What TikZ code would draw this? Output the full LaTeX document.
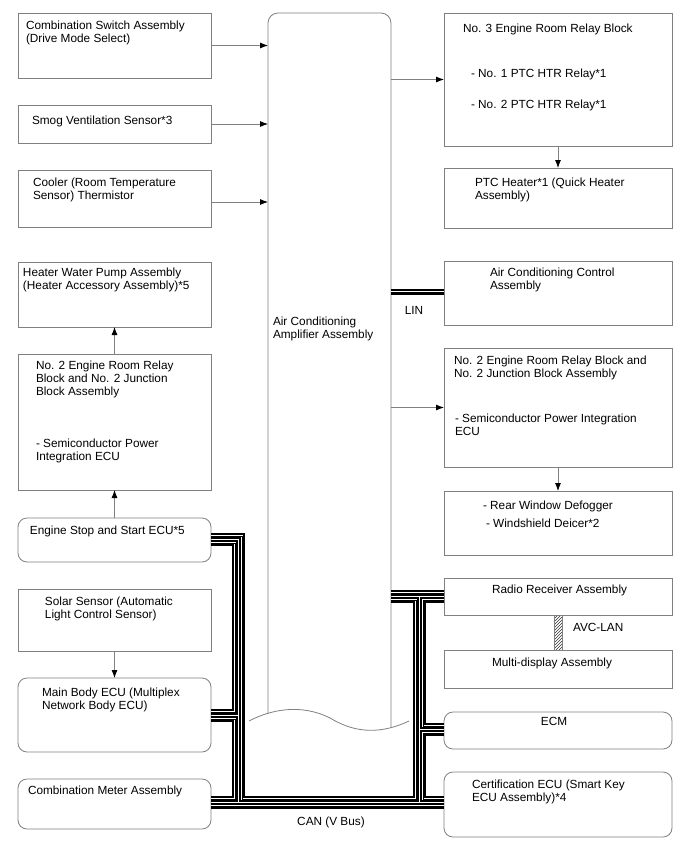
\documentclass[tikz,border=0pt]{standalone}
\usepackage{fontspec}
\setmainfont{Liberation Sans}
\usetikzlibrary{arrows.meta,patterns,calc}
\definecolor{boxgray}{RGB}{128,128,128}
\begin{document}
\begin{tikzpicture}[x=1pt,y=-1pt,
  box/.style={draw=boxgray, line width=0.8pt, rectangle, inner sep=0pt, outer sep=0pt, anchor=north west},
  rbox/.style={box, rounded corners=9pt},
  txt/.style={anchor=north west, inner sep=0pt, outer sep=0pt, align=left, text=black, font=\fontsize{11.8}{13}\selectfont},
  arr/.style={draw=boxgray, line width=0.8pt, -{Latex[length=8pt,width=6pt,color=black]}},
  bus/.style={draw=black, line width=5.6pt, line cap=butt, line join=miter,
     postaction={draw=white, line width=2.8pt},
     postaction={draw=black, line width=0.9pt}},
  hatch/.style={draw=boxgray, line width=0.6pt, pattern=north east lines, pattern color=black!80}
]
\useasboundingbox (0,0) rectangle (688,852);
\fill[white] (0,0) rectangle (688,852);

% ---------- left column boxes
\node[box, minimum width=193pt, minimum height=65pt] (cs) at (18,13) {};
\node[box, minimum width=193pt, minimum height=38pt] (smog) at (18,105) {};
\node[box, minimum width=193pt, minimum height=57pt] (cool) at (18,170) {};
\node[box, minimum width=193pt, minimum height=65pt] (heat) at (18,262) {};
\node[box, minimum width=193pt, minimum height=136pt] (notwol) at (18,354) {};
\node[rbox, minimum width=193pt, minimum height=44pt] (es) at (18,518) {};
\node[box, minimum width=193pt, minimum height=62pt] (solar) at (18,589) {};
\node[rbox, minimum width=193pt, minimum height=74pt] (mb) at (18,678) {};
\node[rbox, minimum width=193pt, minimum height=50pt] (meter) at (18,779) {};

% ---------- right column boxes
\node[box, minimum width=228pt, minimum height=133pt] (nothree) at (444,13) {};
\node[box, minimum width=228pt, minimum height=60pt] (ptc) at (444,168) {};
\node[box, minimum width=228pt, minimum height=64pt] (acc) at (444,261) {};
\node[box, minimum width=228pt, minimum height=119pt] (notwor) at (444,348) {};
\node[box, minimum width=228pt, minimum height=64pt] (defog) at (444,491) {};
\node[box, minimum width=228pt, minimum height=37pt] (radio) at (444,578) {};
\node[box, minimum width=228pt, minimum height=38pt] (multi) at (444,650) {};
\node[rbox, minimum width=228pt, minimum height=37pt] (ecm) at (444,712) {};
\node[rbox, minimum width=228pt, minimum height=65pt] (cert) at (444,772) {};

% ---------- central amplifier
\node[inner sep=0pt, outer sep=0pt, minimum width=123pt, minimum height=707pt, anchor=north west] (amp) at (268,13) {};
\draw[draw=boxgray, line width=0.8pt, rounded corners=10pt] (268,714) -- (268,13) -- (391,13) -- (391,727);
\draw[draw=boxgray, line width=0.8pt] (249,721) .. controls (270,710) and (300,703) .. (330,718) .. controls (350,730) and (375,737) .. (409,721);

% ---------- texts
\node[txt] (tcs) at (26,20.5) {Combination Switch Assembly\\(Drive Mode Select)};
\node[txt] (tsmog) at (32,115.5) {Smog Ventilation Sensor*3};
\node[txt] (tcool) at (33,177.5) {Cooler (Room Temperature\\Sensor) Thermistor};
\node[txt] (theat) at (23,267.5) {Heater Water Pump Assembly\\(Heater Accessory Assembly)*5};
\node[txt] (tnotwol) at (36,360.5) {No. 2 Engine Room Relay\\Block and No. 2 Junction\\Block Assembly\\[39pt]- Semiconductor Power\\Integration ECU};
\node[txt] (tes) at (30,525.5) {Engine Stop and Start ECU*5};
\node[txt] (tsolar) at (45,596.5) {Solar Sensor (Automatic\\Light Control Sensor)};
\node[txt] (tmb) at (42,687.5) {Main Body ECU (Multiplex\\Network Body ECU)};
\node[txt] (tmeter) at (28,785.5) {Combination Meter Assembly};

\node[txt] (tnothree) at (463,23.5) {No. 3 Engine Room Relay Block};
\node[txt] (trone) at (471,68.5) {- No. 1 PTC HTR Relay*1};
\node[txt] (trtwo) at (471,99.5) {- No. 2 PTC HTR Relay*1};
\node[txt] (tptc) at (475,177.5) {PTC Heater*1 (Quick Heater\\Assembly)};
\node[txt] (tacc) at (490,267.5) {Air Conditioning Control\\Assembly};
\node[txt] (tnotwor) at (454,355.5) {No. 2 Engine Room Relay Block and\\No. 2 Junction Block Assembly};
\node[txt] (tspi) at (455,413.5) {- Semiconductor Power Integration\\ECU};
\node[txt] (tdefa) at (483,500.5) {- Rear Window Defogger};
\node[txt] (tdefb) at (486,518.5) {- Windshield Deicer*2};
\node[txt] (tradio) at (492,584.5) {Radio Receiver Assembly};
\node[txt] (tmulti) at (492,657.5) {Multi-display Assembly};
\node[txt, anchor=north] (tecm) at (554,717.5) {ECM};
\node[txt] (tcert) at (472,779.5) {Certification ECU (Smart Key\\ECU Assembly)*4};
\node[txt] (tamp) at (273,316.5) {Air Conditioning\\Amplifier Assembly};
\node[txt, anchor=north] (tlin) at (414,306.5) {LIN};
\node[txt] (tavc) at (573,623.5) {AVC-LAN};
\node[txt, anchor=north] (tcan) at (331,816.5) {CAN (V Bus)};

% ---------- arrows
\draw[arr] (cs.east) -- (cs.east -| amp.west);
\draw[arr] (smog.east) -- (smog.east -| amp.west);
\draw[arr] (cool.east |- 0,202) -- (amp.west |- 0,202);
\draw[arr] (nothree.west -| amp.east) -- (nothree.west);
\draw[arr] (notwor.west -| amp.east) -- (notwor.west);
\draw[arr] (nothree.south) -- (ptc.north);
\draw[arr] (notwor.south) -- (defog.north);
\draw[arr] (notwol.north) -- (heat.south);
\draw[arr] (es.north) -- (notwol.south);
\draw[arr] (solar.south) -- (mb.north);

% ---------- AVC-LAN
\draw[hatch] ($(radio.south)+(-4,0)$) rectangle ($(multi.north)+(4,0)$);

% ---------- buses
\draw[bus] (amp.east |- 0,292) -- (acc.west |- 0,292);
\draw[bus] (amp.east |- 0,593) -- (radio.west |- 0,593);
\draw[bus] (es.east |- 0,536) -- (242,536) -- (242,799) -- (416,799) -- (416,600) -- (amp.east |- 0,600);
\draw[bus] (es.east |- 0,543) -- (235,543) -- (235,712) -- (mb.east |- 0,712);
\draw[bus] (mb.east |- 0,719) -- (235,719) -- (235,799) -- (meter.east |- 0,799);
\draw[bus] (meter.east |- 0,806) -- (cert.west |- 0,806);
\draw[bus] (radio.west |- 0,600) -- (423,600) -- (423,726) -- (ecm.west |- 0,726);
\draw[bus] (ecm.west |- 0,733) -- (423,733) -- (423,799) -- (cert.west |- 0,799);
\end{tikzpicture}
\end{document}
